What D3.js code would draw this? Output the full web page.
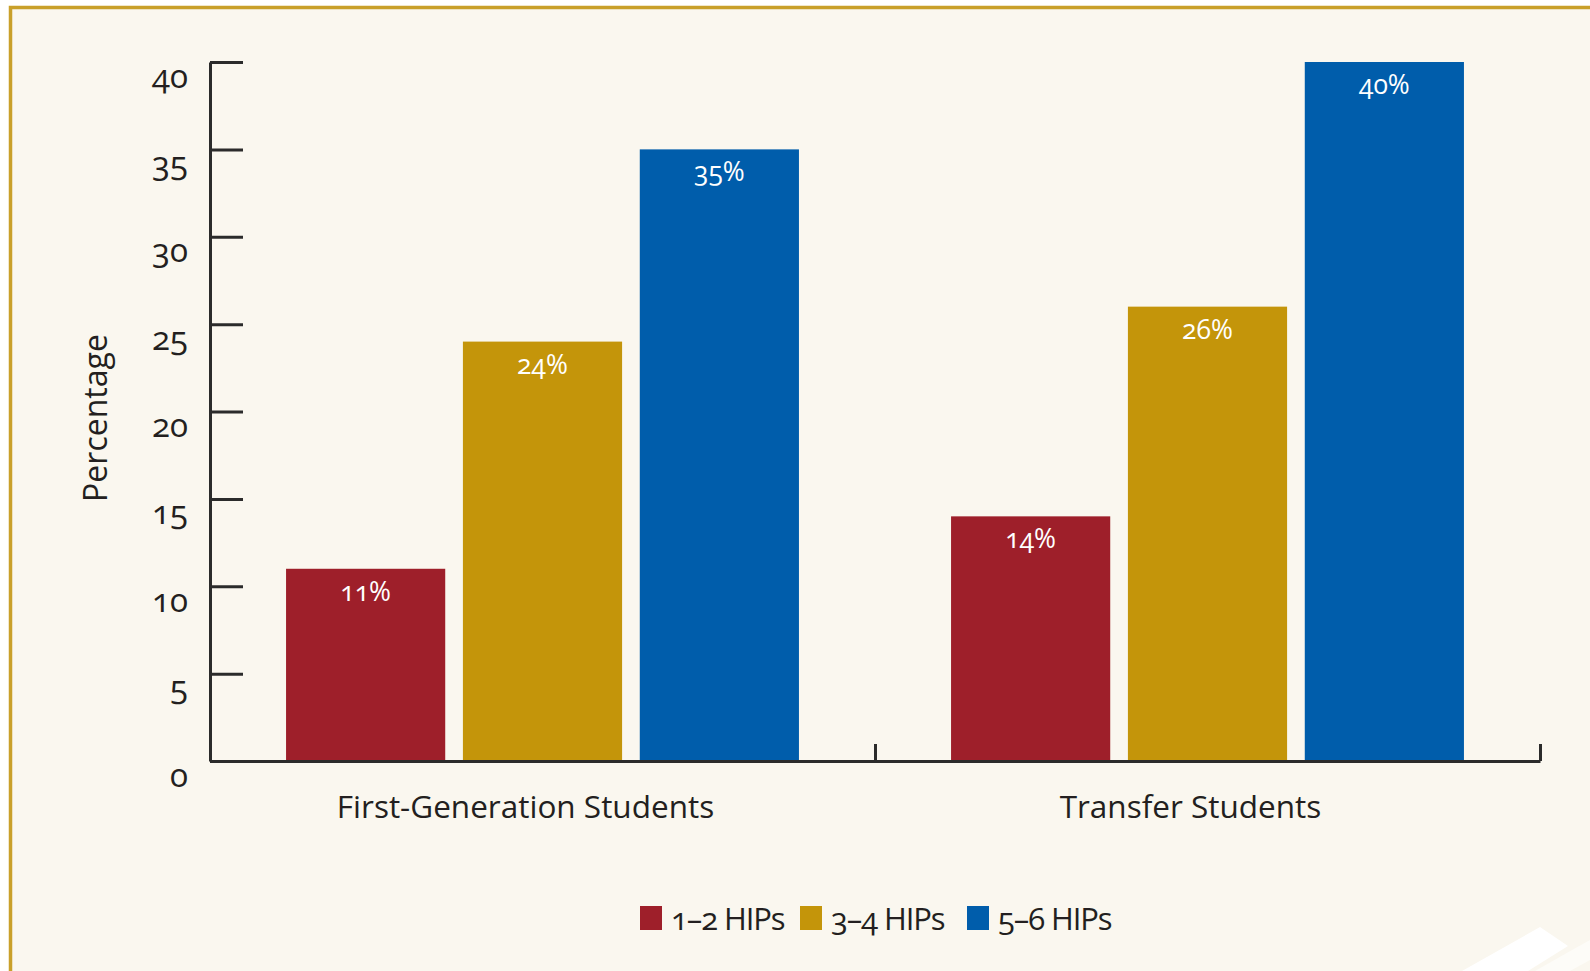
<!DOCTYPE html>
<html>
<head>
<meta charset="utf-8">
<script src="https://cdn.jsdelivr.net/npm/d3@7"></script>
<style>
  html, body { margin: 0; padding: 0; background: #ffffff; }
  svg { display: block; }
  text { font-family: "Open Sans", "Noto Sans", sans-serif; font-variant-numeric: oldstyle-nums; font-feature-settings: "onum" 1; }
</style>
</head>
<body>
<svg id="chart" width="1590" height="971"></svg>
<script>
const categories = ["First-Generation Students", "Transfer Students"];
const seriesNames = ["1–2 HIPs", "3–4 HIPs", "5–6 HIPs"];
const seriesColors = ["#9e1f2a", "#c4950a", "#005dab"];
const values = [
  [11, 24, 35],   // First-Generation Students
  [14, 26, 40]    // Transfer Students
];
const yTicks = [0, 5, 10, 15, 20, 25, 30, 35, 40];
const yTitle = "Percentage";

const svg = d3.select("#chart");
const W = 1590, H = 971;

// background panel with gold frame (top + left)
svg.append("rect").attr("x", 0).attr("y", 0).attr("width", W).attr("height", H).attr("fill", "#ffffff");
svg.append("rect").attr("x", 10.5).attr("y", 7.5).attr("width", W).attr("height", H).attr("fill", "#faf7ef");
svg.append("path").attr("d", `M10.5,${H} V7.5 H${W}`).attr("fill", "none").attr("stroke", "#c9a02a").attr("stroke-width", 3.5);
// decorative white shape bottom-right
svg.append("path").attr("d", "M1462,971 L1540,927 L1568,946 L1528,971 Z").attr("fill", "#ffffff");
svg.append("path").attr("d", "M1535,971 L1572,950 L1590,940 L1590,960 L1570,971 Z").attr("fill", "#fdfcf8");

const x0 = 210, x1 = 1540, yBase = 761, yTop = 62;

const y = d3.scaleLinear().domain([0, 40]).range([yBase, yTop]);
const xGroup = d3.scaleBand().domain(categories).range([x0, x1]).paddingInner(0).paddingOuter(0);
const xSeries = d3.scaleBand().domain(seriesNames).range([0, xGroup.bandwidth()]).paddingInner(0.1).paddingOuter(0.43);
const color = d3.scaleOrdinal().domain(seriesNames).range(seriesColors);

// bars
const groups = svg.append("g").selectAll("g").data(categories).join("g")
  .attr("transform", d => `translate(${xGroup(d)},0)`);

groups.each(function(cat, ci) {
  const g = d3.select(this);
  const data = seriesNames.map((s, si) => ({ s, v: values[ci][si] }));
  g.selectAll("rect").data(data).join("rect")
    .attr("x", d => xSeries(d.s))
    .attr("y", d => y(d.v))
    .attr("width", xSeries.bandwidth())
    .attr("height", d => y(0) - y(d.v))
    .attr("fill", d => color(d.s));
  g.selectAll("text.val").data(data).join("text")
    .attr("class", "val")
    .attr("x", d => xSeries(d.s) + xSeries.bandwidth() / 2)
    .attr("y", d => y(d.v) + 32)
    .attr("text-anchor", "middle")
    .attr("fill", "#ffffff")
    .attr("font-size", 26.5)
    .text(d => d.v + "%");
});

// y axis
const yAxis = d3.axisLeft(y).tickValues(yTicks).tickSizeInner(-33).tickSizeOuter(0).tickPadding(22);
const gy = svg.append("g").attr("transform", `translate(${x0},0)`).call(yAxis);
gy.selectAll("path, line").attr("stroke", "#2b2b2b").attr("stroke-width", 3);
gy.selectAll("text").attr("dy", 25).attr("font-size", 33).attr("fill", "#231f20")
  .style("font-family", "'Open Sans', sans-serif");

// x axis (group boundary ticks)
const xb = d3.scaleLinear().domain([0, categories.length]).range([x0, x1]);
const xAxis = d3.axisBottom(xb).tickValues(d3.range(1, categories.length + 1)).tickSizeInner(-17).tickSizeOuter(0).tickFormat("");
const gx = svg.append("g").attr("transform", `translate(0,${yBase})`).call(xAxis);
gx.selectAll("path, line").attr("stroke", "#2b2b2b").attr("stroke-width", 3);

// category labels
svg.append("g").selectAll("text").data(categories).join("text")
  .attr("x", d => xGroup(d) + xGroup.bandwidth() / 2 - 17)
  .attr("y", 818)
  .attr("text-anchor", "middle")
  .attr("font-size", 31.5)
  .attr("fill", "#231f20")
  .text(d => d);

// y title
svg.append("text")
  .attr("transform", `translate(107,418) rotate(-90)`)
  .attr("text-anchor", "middle")
  .attr("font-size", 32)
  .attr("fill", "#231f20")
  .text(yTitle);

// legend
const legendX = [640, 800, 967];
const lg = svg.append("g").selectAll("g").data(seriesNames).join("g")
  .attr("transform", (d, i) => `translate(${legendX[i]},906)`);
lg.append("rect").attr("width", 22).attr("height", 24).attr("fill", d => color(d));
lg.append("text").attr("x", 31).attr("y", 24).attr("font-size", 31).attr("letter-spacing", -1.1).attr("fill", "#231f20").text(d => d);
</script>
</body>
</html>
